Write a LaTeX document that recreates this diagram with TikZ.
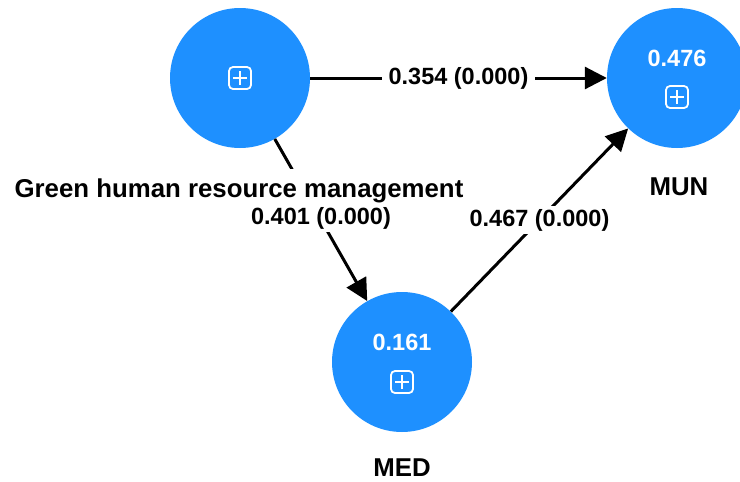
\documentclass[tikz,border=0pt]{standalone}
\usepackage{fontspec}
\setmainfont{Liberation Sans}
\usetikzlibrary{arrows.meta}
\definecolor{nodeblue}{RGB}{30,144,255}
\begin{document}
\begin{tikzpicture}[x=1pt,y=-1pt,
  circ/.style={circle,fill=nodeblue,minimum size=140pt,inner sep=0pt},
  icon/.style={draw=white,line width=1.8pt,rounded corners=4pt,minimum size=22pt,inner sep=0pt},
  plusline/.style={draw=white,line width=1.8pt},
  val/.style={text=white,inner sep=0pt,font=\fontsize{23.5}{28}\selectfont\bfseries},
  lbl/.style={text=black,font=\fontsize{25.8}{30}\selectfont\bfseries},
  conn/.style={draw=black,line width=3pt,-{Triangle[length=22pt,width=22pt]}},
  num/.style={fill=white,text=black,inner xsep=7pt,inner ysep=3pt,font=\fontsize{23.5}{28}\selectfont\bfseries}
]
\useasboundingbox (0,0) rectangle (740,482);

% constructs
\node[circ] (g) at (240,78) {};
\node[circ] (mun) at (677,78) {};
\node[circ] (med) at (402,362) {};

% icons
\node[icon] (gi) at (240,78) {};
\node[icon] (munI) at (677,97) {};
\node[icon] (medI) at (402,382) {};
\foreach \n in {gi,munI,medI}{
  \draw[plusline] ([xshift=-7pt]\n.center) -- ([xshift=7pt]\n.center);
  \draw[plusline] ([yshift=-7pt]\n.center) -- ([yshift=7pt]\n.center);
}

% R squared values
\node[val] (munV) at (677,58) {0.476};
\node[val] (medV) at (402,342) {0.161};

% paths
\draw[conn] (g) -- coordinate[midway] (m1) (mun);
\draw[conn] (g) -- coordinate[midway] (m2) (med);
\draw[conn] (med) -- coordinate[midway] (m3) (mun);

% construct label (covers the path behind it)
\node[lbl,fill=white,inner xsep=2pt,inner ysep=9pt,anchor=base] (gl) at (239,197) {Green human resource management};

% path coefficients
\node[num] (p1) at (m1) {0.354 (0.000)};
\node[num] (p2) at ([yshift=2pt]m2) {0.401 (0.000)};
\node[num] (p3) at (m3) {0.467 (0.000)};

% other labels
\node[lbl] (munL) at (679,187) {MUN};
\node[lbl] (medL) at (402,468) {MED};
\end{tikzpicture}
\end{document}
